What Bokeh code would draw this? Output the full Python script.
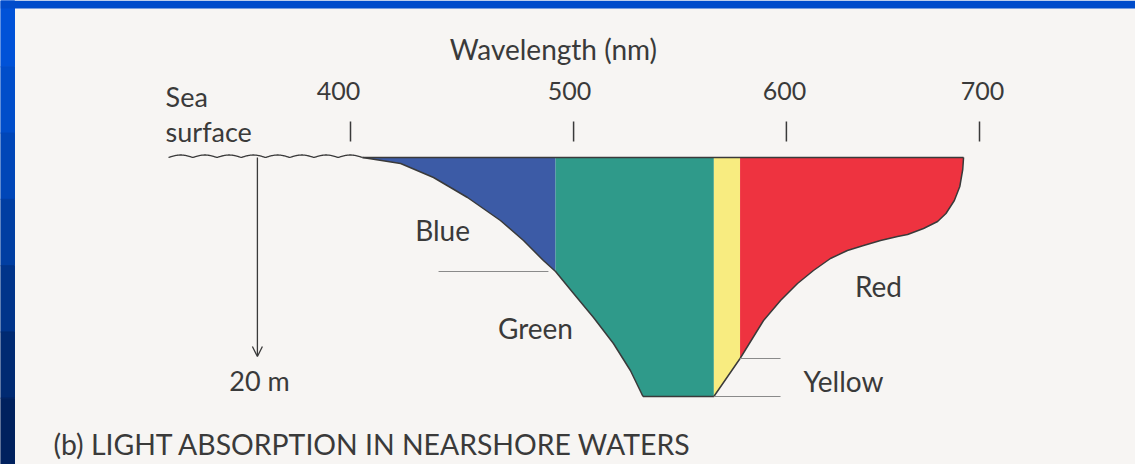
import numpy as np
from bokeh.plotting import figure
from bokeh.models import Range1d, ColumnDataSource, Arrow, OpenHead
from bokeh.core.properties import value
from bokeh.embed import file_html
from bokeh.resources import INLINE

# ---------------- data (wavelength in nm, depth in m) ----------------
tick_labels = ["400", "500", "600", "700"]
tick_nm = [400.0, 506.4, 607.9, 700.0]          # schematic (non-linear) tick placement
tick_label_nm = [394.3, 504.5, 607.0, 701.4]

# boundary of blue band (from surface down to the blue/green boundary)
blue_curve_nm = [405.7, 423.9, 439.6, 455.8, 471.5, 482.5, 492.0, 497.8]
blue_curve_depth = [0.0, 0.6, 2.0, 4.0, 6.3, 8.3, 10.3, 11.4]

# boundary of green band (continues the blue curve down to the bottom)
green_curve_nm = [497.8, 506.4, 515.9, 525.4, 533.5, 539.5]
green_curve_depth = [11.4, 13.6, 16.0, 18.6, 21.3, 23.9]

green_right_nm = 573.3
yellow_right_nm = 585.8
green_max_depth = 23.9
yellow_max_depth = 20.1

# boundary of red band, from the surface at the long-wave end back to the yellow edge
red_curve_nm = [692.4, 692.0, 690.6, 688.0, 684.0, 680.0, 673.3, 665.7, 660.9, 652.8, 644.7,
                637.0, 628.9, 620.8, 613.2, 605.1, 597.0, 585.8]
red_curve_depth = [0.0, 1.2, 2.9, 4.3, 5.6, 6.4, 7.1, 7.7, 7.9, 8.3, 8.8,
                   9.3, 10.1, 11.3, 12.6, 14.3, 16.3, 20.1]

band_names = ["Blue", "Green", "Yellow", "Red"]
band_colors = ["#3c5ba6", "#2f9a8a", "#f8ec80", "#ee3340"]

depth_arrow_nm = 355.6
depth_arrow_max = 19.9
surface_start_nm = 313.2

# ---------------- figure ----------------
PANEL = "#f7f5f3"
INK = "#3a3a3a"
FONT = value("Lato")

X0, X1 = 233.07, 774.40
Y_TOP, Y_BOT = -15.7, 30.7
p = figure(width=1135, height=464, output_backend="svg", toolbar_location=None,
           x_range=Range1d(X0, X1), y_range=Range1d(Y_BOT, Y_TOP),
           x_axis_location=None, y_axis_location=None,
           min_border_left=0, min_border_right=0, min_border_top=0, min_border_bottom=0)
p.grid.visible = False
p.outline_line_color = None
p.background_fill_color = PANEL
p.border_fill_color = PANEL

# slide frame (blue strips at top and left, darkening downwards)
panel_left_nm = 239.75
panel_top_depth = -14.9
strip_colors = ["#0052d8", "#004dca", "#0046b8", "#003ea2", "#00348a", "#002a72", "#00215e"]
edges = np.linspace(Y_TOP, Y_BOT, len(strip_colors) + 1)
p.quad(left=X0, right=panel_left_nm, top=edges[:-1], bottom=edges[1:],
       fill_color=strip_colors, line_color=strip_colors, line_width=1)
p.quad(left=X0, right=X1, top=Y_TOP, bottom=panel_top_depth,
       fill_color="#004ccb", line_color=None)

# polygons built from the arrays
blue_x = [blue_curve_nm[-1], blue_curve_nm[-1]] + blue_curve_nm[::-1]
blue_y = [0.0, blue_curve_depth[-1]] + blue_curve_depth[::-1]

green_x = [blue_curve_nm[-1], green_right_nm, green_right_nm] + green_curve_nm[::-1]
green_y = [0.0, 0.0, green_max_depth] + green_curve_depth[::-1]

yellow_x = [green_right_nm, yellow_right_nm, yellow_right_nm, green_right_nm]
yellow_y = [0.0, 0.0, yellow_max_depth, green_max_depth]

red_x = [yellow_right_nm] + red_curve_nm
red_y = [0.0] + red_curve_depth

p.patches(xs=[blue_x, green_x, yellow_x, red_x], ys=[blue_y, green_y, yellow_y, red_y],
          fill_color=band_colors, line_color=None)

# outlines
p.line(x=[blue_curve_nm[0], red_curve_nm[0]], y=[0, 0], line_color=INK, line_width=1.5)
p.line(x=blue_curve_nm + green_curve_nm[1:], y=blue_curve_depth + green_curve_depth[1:],
       line_color=INK, line_width=1.5)
p.line(x=[green_curve_nm[-1], green_right_nm, yellow_right_nm],
       y=[green_max_depth, green_max_depth, yellow_max_depth], line_color=INK, line_width=1.5)
p.line(x=red_curve_nm, y=red_curve_depth, line_color=INK, line_width=1.5)

# wavy sea surface (decorative)
wx = np.linspace(surface_start_nm, blue_curve_nm[0], 400)
wy = -0.25 * np.abs(np.sin(np.pi * (wx - surface_start_nm) / (blue_curve_nm[0] - surface_start_nm) * 8))
p.line(x=wx, y=wy, line_color=INK, line_width=1.3)

# depth arrow
p.add_layout(Arrow(x_start=depth_arrow_nm, y_start=0, x_end=depth_arrow_nm, y_end=depth_arrow_max,
                   line_color=INK, line_width=1.3,
                   end=OpenHead(size=10, line_color=INK, line_width=1.3)))

# thin leader lines
p.segment(x0=[442.0, yellow_right_nm, green_right_nm], y0=[blue_curve_depth[-1], yellow_max_depth, green_max_depth],
          x1=[494.4, 605.1, 605.1], y1=[blue_curve_depth[-1], yellow_max_depth, green_max_depth],
          line_color="#8a8a8a", line_width=1)

# wavelength ticks
p.segment(x0=tick_nm, y0=[-3.6] * 4, x1=tick_nm, y1=[-1.6] * 4, line_color=INK, line_width=1.5)
p.text(x=tick_label_nm, y=[-6.7] * 4, text=tick_labels, text_font=FONT, text_font_size="25px",
       text_align="center", text_baseline="middle", text_color=INK)

# labels
lab = ColumnDataSource(dict(
    x=[496.8, 443.9, 488.2, 651.8, 635.1],
    y=[-10.9, 7.2, 17.0, 12.8, 22.3],
    t=["Wavelength (nm)", band_names[0], band_names[1], band_names[3], band_names[2]]))
p.text(x="x", y="y", text="t", source=lab, text_font=FONT, text_font_size="28px",
       text_align="center", text_baseline="middle", text_color=INK)

p.text(x=[311.8, 311.8], y=[-6.1, -2.6], text=["Sea", "surface"], text_font=FONT,
       text_font_size="27px", text_align="left", text_baseline="middle", text_color=INK)
p.text(x=[356.6], y=[22.3], text=["20 m"], text_font=FONT, text_font_size="27px",
       text_align="center", text_baseline="middle", text_color=INK)

p.text(x=[258.3], y=[28.6], text=["(b) LIGHT ABSORPTION IN NEARSHORE WATERS"], text_font=FONT,
       text_font_size="28.4px", text_align="left", text_baseline="middle", text_color=INK)

open("out.html", "w").write(file_html(p, INLINE))
